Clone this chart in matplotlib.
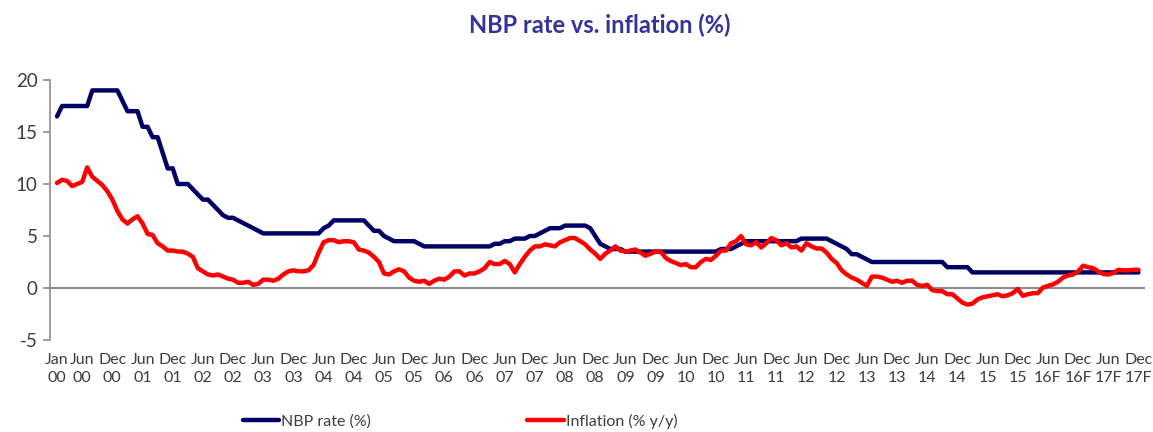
# plot.py
# NBP reference rate vs CPI inflation, monthly Jan 2000 - Dec 2017 (F = forecast)

import numpy as np
import matplotlib
matplotlib.use("Agg")
import matplotlib.pyplot as plt

# ── Data ────────────────────────────────────────────────
# NBP reference rate (%), month-end, Jan 2000 .. Dec 2017
nbp_rate = [
    16.5, 17.5, 17.5, 17.5, 17.5, 17.5, 17.5, 19.0, 19.0, 19.0, 19.0, 19.0,   # 2000
    19.0, 18.0, 17.0, 17.0, 17.0, 15.5, 15.5, 14.5, 14.5, 13.0, 11.5, 11.5,   # 2001
    10.0, 10.0, 10.0, 9.5, 9.0, 8.5, 8.5, 8.0, 7.5, 7.0, 6.75, 6.75,          # 2002
    6.5, 6.25, 6.0, 5.75, 5.5, 5.25, 5.25, 5.25, 5.25, 5.25, 5.25, 5.25,      # 2003
    5.25, 5.25, 5.25, 5.25, 5.25, 5.75, 6.0, 6.5, 6.5, 6.5, 6.5, 6.5,         # 2004
    6.5, 6.5, 6.0, 5.5, 5.5, 5.0, 4.75, 4.5, 4.5, 4.5, 4.5, 4.5,              # 2005
    4.25, 4.0, 4.0, 4.0, 4.0, 4.0, 4.0, 4.0, 4.0, 4.0, 4.0, 4.0,              # 2006
    4.0, 4.0, 4.0, 4.25, 4.25, 4.5, 4.5, 4.75, 4.75, 4.75, 5.0, 5.0,          # 2007
    5.25, 5.5, 5.75, 5.75, 5.75, 6.0, 6.0, 6.0, 6.0, 6.0, 5.75, 5.0,          # 2008
    4.25, 4.0, 3.75, 3.75, 3.75, 3.5, 3.5, 3.5, 3.5, 3.5, 3.5, 3.5,           # 2009
    3.5, 3.5, 3.5, 3.5, 3.5, 3.5, 3.5, 3.5, 3.5, 3.5, 3.5, 3.5,               # 2010
    3.75, 3.75, 3.75, 4.0, 4.25, 4.5, 4.5, 4.5, 4.5, 4.5, 4.5, 4.5,           # 2011
    4.5, 4.5, 4.5, 4.5, 4.75, 4.75, 4.75, 4.75, 4.75, 4.75, 4.5, 4.25,        # 2012
    4.0, 3.75, 3.25, 3.25, 3.0, 2.75, 2.5, 2.5, 2.5, 2.5, 2.5, 2.5,           # 2013
    2.5, 2.5, 2.5, 2.5, 2.5, 2.5, 2.5, 2.5, 2.5, 2.0, 2.0, 2.0,               # 2014
    2.0, 2.0, 1.5, 1.5, 1.5, 1.5, 1.5, 1.5, 1.5, 1.5, 1.5, 1.5,               # 2015
    1.5, 1.5, 1.5, 1.5, 1.5, 1.5, 1.5, 1.5, 1.5, 1.5, 1.5, 1.5,               # 2016
    1.5, 1.5, 1.5, 1.5, 1.5, 1.5, 1.5, 1.5, 1.5, 1.5, 1.5, 1.5,               # 2017
]

# CPI inflation (% y/y), Jan 2000 .. Dec 2017
cpi_yoy = [
    10.1, 10.4, 10.3, 9.8, 10.0, 10.2, 11.6, 10.7, 10.3, 9.9, 9.3, 8.5,       # 2000
    7.4, 6.6, 6.2, 6.6, 6.9, 6.2, 5.2, 5.1, 4.3, 4.0, 3.6, 3.6,               # 2001
    3.5, 3.5, 3.3, 3.0, 1.9, 1.6, 1.3, 1.2, 1.3, 1.1, 0.9, 0.8,               # 2002
    0.5, 0.5, 0.6, 0.3, 0.4, 0.8, 0.8, 0.7, 0.9, 1.3, 1.6, 1.7,               # 2003
    1.6, 1.6, 1.7, 2.2, 3.4, 4.4, 4.6, 4.6, 4.4, 4.5, 4.5, 4.4,               # 2004
    3.7, 3.6, 3.4, 3.0, 2.5, 1.4, 1.3, 1.6, 1.8, 1.6, 1.0, 0.7,               # 2005
    0.6, 0.7, 0.4, 0.7, 0.9, 0.8, 1.1, 1.6, 1.6, 1.2, 1.4, 1.4,               # 2006
    1.6, 1.9, 2.5, 2.3, 2.3, 2.6, 2.3, 1.5, 2.3, 3.0, 3.6, 4.0,               # 2007
    4.0, 4.2, 4.1, 4.0, 4.4, 4.6, 4.8, 4.8, 4.5, 4.2, 3.7, 3.3,               # 2008
    2.8, 3.3, 3.6, 4.0, 3.6, 3.5, 3.6, 3.7, 3.4, 3.1, 3.3, 3.5,               # 2009
    3.5, 2.9, 2.6, 2.4, 2.2, 2.3, 2.0, 2.0, 2.5, 2.8, 2.7, 3.1,               # 2010
    3.6, 3.6, 4.3, 4.5, 5.0, 4.2, 4.1, 4.4, 3.9, 4.3, 4.8, 4.6,               # 2011
    4.1, 4.3, 3.9, 4.0, 3.6, 4.3, 4.0, 3.8, 3.8, 3.4, 2.8, 2.4,               # 2012
    1.7, 1.3, 1.0, 0.8, 0.5, 0.2, 1.1, 1.1, 1.0, 0.8, 0.6, 0.7,               # 2013
    0.5, 0.7, 0.7, 0.3, 0.2, 0.3, -0.2, -0.3, -0.3, -0.6, -0.6, -1.0,         # 2014
    -1.4, -1.6, -1.5, -1.1, -0.9, -0.8, -0.7, -0.6, -0.8, -0.7, -0.5, -0.1,   # 2015
    -0.75, -0.6, -0.5, -0.5, 0.05, 0.2, 0.35, 0.6, 1.0, 1.2, 1.3, 1.6,        # 2016
    2.15, 2.0, 1.9, 1.6, 1.35, 1.3, 1.45, 1.75, 1.7, 1.7, 1.75, 1.75,         # 2017
]

tick_labels = ["Jan\n00"]
for yy in range(0, 18):
    sfx = "F" if yy >= 16 else ""
    tick_labels.append(f"Jun\n{yy:02d}{sfx}")
    tick_labels.append(f"Dec\n{yy:02d}{sfx}")

MONTHS = {"Jan": 0, "Jun": 5, "Dec": 11}

# ── Style ───────────────────────────────────────────────
BLUE  = "#000066"
RED   = "#FF0000"
GREY  = "#8C8C8C"
TEXT  = "#3C3C3C"
TITLE = "#333399"

plt.rcParams["font.family"] = ["Lato", "DejaVu Sans"]

fig = plt.figure(figsize=(11.53, 4.32), dpi=100)
ax = fig.add_axes([50 / 1153, 1 - 340 / 432, (1145 - 50) / 1153, 260 / 432])

x = np.arange(len(nbp_rate))
ax.plot(x, nbp_rate, color=BLUE, lw=3.2, solid_capstyle="round",
        solid_joinstyle="round", label="NBP rate (%)", zorder=3)
ax.plot(x, cpi_yoy, color=RED, lw=3.2, solid_capstyle="round",
        solid_joinstyle="round", label="Inflation (% y/y)", zorder=4)

ax.axhline(0, color=GREY, lw=1.5, zorder=1)

ax.set_xlim(-1.4, 216.3)
ax.set_ylim(-5, 20)
ax.set_yticks([-5, 0, 5, 10, 15, 20])
ax.set_yticklabels(["-5", "0", "5", "10", "15", "20"])

# tick positions from label month/year
tick_pos = []
for lab in tick_labels:
    mon, yr = lab.split("\n")
    tick_pos.append(int(yr[:2]) * 12 + MONTHS[mon])
ax.set_xticks(tick_pos)
ax.set_xticklabels(tick_labels, linespacing=1.4)

for s in ["top", "right", "bottom"]:
    ax.spines[s].set_visible(False)
ax.spines["left"].set_color(GREY)
ax.spines["left"].set_linewidth(1.2)

ax.tick_params(axis="y", colors=GREY, labelcolor=TEXT, labelsize=13.5,
               length=5, width=1.2, pad=4)
ax.tick_params(axis="x", length=0, labelcolor=TEXT, labelsize=11.5, pad=9)
ax.set_facecolor("none")

fig.text(600 / 1153, 1 - 25 / 432, "NBP rate vs. inflation (%)",
         ha="center", va="center", fontsize=17, fontweight="bold", color=TITLE)

fig.legend(loc="center", bbox_to_anchor=(460 / 1153, 1 - 421 / 432),
           ncol=2, frameon=False, fontsize=11.5, handlelength=2.3,
           handletextpad=0.1, columnspacing=9.8, labelcolor=TEXT)

fig.savefig("out.png", dpi=100)
